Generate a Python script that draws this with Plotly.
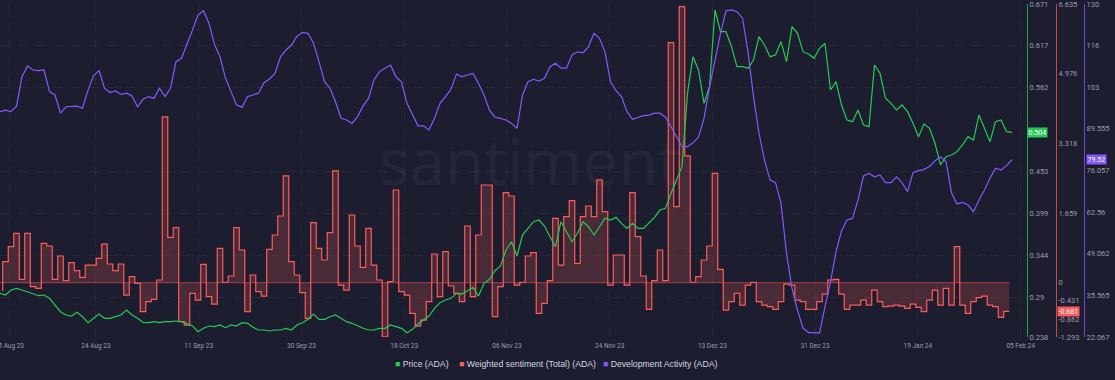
import pandas as pd
import plotly.graph_objects as go

# ---------------- data ----------------
start_date = "2023-08-05"

price = [
    0.2948, 0.2926, 0.2991, 0.3013, 0.2991, 0.2969, 0.2948, 0.2917, 0.2926, 0.2883,
    0.2796, 0.2709, 0.2666, 0.2653, 0.2701, 0.2644, 0.2566, 0.2623, 0.2679, 0.2623,
    0.2623, 0.2644, 0.2666, 0.2731, 0.2666, 0.2623, 0.2571, 0.2566, 0.2579, 0.2566,
    0.2579, 0.2579, 0.2588, 0.2579, 0.2549, 0.2523, 0.2449, 0.2493, 0.2523, 0.2514,
    0.2536, 0.2501, 0.2536, 0.2523, 0.2566, 0.2558, 0.2506, 0.2471, 0.2471, 0.2458,
    0.2471, 0.2471, 0.2493, 0.2471, 0.2536, 0.2566, 0.2610, 0.2679, 0.2610, 0.2610,
    0.2644, 0.2666, 0.2623, 0.2579, 0.2558, 0.2523, 0.2493, 0.2471, 0.2471, 0.2493,
    0.2493, 0.2536, 0.2514, 0.2493, 0.2436, 0.2480, 0.2549, 0.2601, 0.2653, 0.2753,
    0.2826, 0.2861, 0.2883, 0.2948, 0.2939, 0.2982, 0.3026, 0.2913, 0.3078, 0.3130,
    0.3242, 0.3303, 0.3511, 0.3619, 0.3433, 0.3706, 0.3793, 0.3879, 0.3901, 0.3823,
    0.3684, 0.3554, 0.3879, 0.3749, 0.3619, 0.3728, 0.3879, 0.3814, 0.3706, 0.3814,
    0.3923, 0.3901, 0.3936, 0.3858, 0.3793, 0.3858, 0.3793, 0.3793, 0.3866, 0.3936,
    0.4031, 0.4053, 0.4249, 0.4421, 0.4594, 0.5549, 0.6025, 0.5852, 0.5419, 0.5635,
    0.6632, 0.6350, 0.6350, 0.6155, 0.5895, 0.5895, 0.5874, 0.5982, 0.6285, 0.6177,
    0.6025, 0.6047, 0.6220, 0.5960, 0.6415, 0.6329, 0.6090, 0.6060, 0.6004, 0.6134,
    0.6199, 0.5592, 0.5700, 0.5397, 0.5202, 0.5180, 0.5332, 0.5137, 0.5115, 0.5917,
    0.5809, 0.5484, 0.5419, 0.5332, 0.5397, 0.5310, 0.5159, 0.4985, 0.5150, 0.5094,
    0.4899, 0.4617, 0.4724, 0.4747, 0.4790, 0.4877, 0.4985, 0.4942, 0.5267, 0.5094,
    0.4920, 0.5180, 0.5202, 0.5050, 0.504,
]

dev_activity = [
    95.1, 95.6, 95.1, 96.9, 106.4, 109.9, 108.6, 108.4, 108.6, 101.6,
    100.5, 94.6, 96.7, 96.7, 96.9, 96.2, 102.1, 106.7, 108.4, 102.7,
    101.3, 101.8, 100.7, 101.1, 100.2, 96.7, 99.1, 100.0, 99.4, 102.7,
    100.0, 102.7, 111.3, 112.4, 116.7, 121.6, 126.4, 127.8, 123.7, 116.9,
    112.9, 105.9, 101.6, 97.3, 96.5, 100.0, 100.5, 101.1, 104.5, 105.7,
    107.5, 112.9, 115.1, 116.7, 119.6, 120.8, 120.5, 117.3, 111.3, 104.8,
    102.7, 98.3, 92.95, 92.4, 91.3, 93.5, 96.9, 99.4, 105.4, 108.1,
    109.2, 110.2, 106.4, 104.8, 97.8, 94.0, 90.5, 90.5, 89.2, 92.95,
    97.8, 100.0, 102.4, 107.3, 106.4, 107.0, 107.5, 104.3, 100.5, 95.6,
    93.3, 92.95, 92.4, 91.3, 89.7, 100.5, 104.8, 105.6, 105.0, 105.9,
    109.7, 110.8, 109.2, 109.2, 113.5, 114.5, 114.2, 116.2, 120.5, 118.9,
    114.5, 104.8, 101.9, 100.0, 95.1, 92.6, 93.3, 93.8, 94.0, 94.6,
    94.6, 93.3, 90.2, 87.0, 83.75, 83.75, 85.0, 86.8, 92.95, 103.0,
    112.4, 120.5, 127.8, 128.1, 127.5, 125.4, 114.5, 100.0, 88.1, 79.4,
    73.0, 72.1, 65.4, 49.2, 37.85, 30.8, 24.9, 23.5, 23.5, 23.3,
    31.9, 40.0, 49.7, 56.5, 60.0, 60.5, 66.5, 74.25, 75.1, 74.0,
    74.6, 72.1, 72.1, 74.0, 72.1, 69.2, 75.3, 76.0, 76.4, 77.3,
    79.2, 80.5, 78.9, 68.8, 65.2, 65.7, 64.85, 62.7, 66.5, 69.7,
    73.5, 76.75, 76.2, 77.6, 79.52,
]

sentiment = [
    -0.2, 0.50, 0.86, 1.175, 0.08, 1.175, -0.095, -0.135, 0.937, 0.873,
    0.08, 0.635, 0.048, 0.476, 0.286, 0.127, 0.42, 0.42, 0.58, 0.92,
    0.445, 0.286, 0.445, -0.294, 0.143, -0.016, -0.69, -0.453, -0.397, 0.064,
    3.95, 1.08, 1.31, -0.929, -1.008, -0.254, -0.413, 0.437, -0.333, -0.508,
    0.818, 0.01, 0.159, 1.31, 0.778, -0.69, 0.183, -0.214, -0.318, 0.794,
    1.135, 1.588, 2.541, 0.50, 0.183, -0.238, -0.85, 1.429, 0.818, 0.54,
    1.191, 2.66, -0.056, -0.175, 1.612, 0.873, 0.365, 1.294, 0.42, 0.064,
    -1.29, 0.024, 2.207, -0.214, -0.294, -0.73, -1.032, -0.889, -0.453, 0.683,
    -0.333, 0.738, -0.079, -0.254, -0.453, 1.35, -0.333, 1.135, 2.326, 2.326,
    -0.81, -0.095, 2.144, 2.064, -0.056, 0.01, 0.635, 0.715, -0.73, -0.492,
    0.048, 1.532, 0.42, 1.572, 1.953, 0.46, 1.572, 1.826, 1.572, 2.446,
    1.691, -0.056, 0.659, 0.659, -0.056, 2.144, 1.096, 0.159, -0.635, 0.048,
    0.778, 0.048, 5.717, 1.81, 6.574, 3.017, 0.01, 0.143, 0.54, 0.873,
    2.604, 0.318, -0.651, -0.453, -0.254, -0.532, -0.056, 0.01, -0.453, -0.532,
    -0.572, -0.635, -0.453, -0.032, -0.056, -0.413, -0.453, -0.635, -0.635, -0.453,
    -0.27, 0.064, 0.079, -0.27, -0.635, -0.532, -0.532, -0.413, -0.532, -0.175,
    -0.453, -0.572, -0.556, -0.532, -0.556, -0.611, -0.508, -0.588, -0.69, -0.413,
    -0.175, -0.532, -0.135, -0.532, 0.857, -0.532, -0.73, -0.453, -0.357, -0.318,
    -0.532, -0.572, -0.826, -0.681,
]

x_tick_labels = ["05 Aug 23", "24 Aug 23", "11 Sep 23", "30 Sep 23", "18 Oct 23",
                 "06 Nov 23", "24 Nov 23", "13 Dec 23", "31 Dec 23", "19 Jan 24", "05 Feb 24"]
price_ticks = [0.238, 0.29, 0.344, 0.399, 0.453, 0.562, 0.617, 0.671]
price_range = [0.238, 0.671]
sent_ticks = [-1.293, -0.862, -0.431, 0, 1.659, 3.318, 4.976, 6.635]
sent_range = [-1.293, 6.635]
dev_ticks = [22.067, 35.565, 49.062, 62.56, 76.057, 89.555, 103.052, 116.55, 130]
dev_tick_text = ["22.067", "35.565", "49.062", "62.56", "76.057", "89.555", "103", "116", "130"]
dev_range = [22.067, 130]
series_names = ["Price (ADA)", "Weighted sentiment (Total) (ADA)", "Development Activity (ADA)"]

# ---------------- styling ----------------
BG = "#1c1e2f"
GREEN = "#26C953"
RED = "#FF5B5B"
PURPLE = "#8358FF"
TICK = "#9a9db0"
FONT = "Roboto"
W, H = 1115, 380
PLOT_RIGHT = 1027          # px, right edge of plotting area (green axis)
PX_PER_DAY = 5.5
EPS = 1e-6

t0 = pd.Timestamp(start_date)
dates = t0 + pd.to_timedelta(list(range(len(price))), unit="D")
sent_dates = t0 + pd.to_timedelta([k + 0.5 for k in range(len(sentiment))], unit="D")
x_end = t0 + pd.Timedelta(days=PLOT_RIGHT / PX_PER_DAY)

tick_days = [1.7] + [17.45 + 18.68 * k for k in range(len(x_tick_labels) - 1)]
tick_vals = [t0 + pd.Timedelta(days=d) for d in tick_days]

fig = go.Figure()
fig.add_trace(go.Scatter(
    x=sent_dates, y=sentiment, yaxis="y", mode="lines",
    line=dict(color=RED, width=1.2, shape="vh"),
    fill="tozeroy", fillcolor="rgba(255,91,91,0.2)",
    name=series_names[1], hoverinfo="skip"))
fig.add_trace(go.Scatter(
    x=dates, y=price, yaxis="y2", mode="lines",
    line=dict(color=GREEN, width=1.2), name=series_names[0], hoverinfo="skip"))
fig.add_trace(go.Scatter(
    x=dates, y=dev_activity, yaxis="y3", mode="lines",
    line=dict(color=PURPLE, width=1.2), name=series_names[2], hoverinfo="skip"))

tickfont = dict(family=FONT, size=7.5, color=TICK)
grid = dict(gridcolor="rgba(255,255,255,0.06)", griddash="dash", gridwidth=1)

fig.update_layout(
    template="none",
    width=W, height=H,
    margin=dict(l=0, r=0, t=4, b=43, autoexpand=False),
    paper_bgcolor=BG, plot_bgcolor=BG,
    showlegend=False,
    font=dict(family=FONT, color=TICK),
    xaxis=dict(
        type="date", domain=[0, PLOT_RIGHT / W], range=[t0, x_end], automargin=False,
        tickmode="array", tickvals=tick_vals, ticktext=x_tick_labels,
        tickfont=dict(family=FONT, size=6.5, color=TICK),
        ticks="outside", ticklen=2, tickcolor="rgba(0,0,0,0)",
        ticklabeloverflow="allow",
        showgrid=True, zeroline=False, showline=False, **grid),
    yaxis=dict(
        range=[sent_range[0] - EPS, sent_range[1] + EPS], side="right",
        anchor="free", position=1056 / W, automargin=False,
        showline=True, linecolor="rgba(255,91,91,0.75)", linewidth=1,
        tickmode="array", tickvals=sent_ticks, ticktext=[str(v) for v in sent_ticks],
        tickfont=tickfont, showgrid=False, zeroline=False, ticks="",
        ticklabeloverflow="allow"),
    yaxis2=dict(
        range=[price_range[0] - EPS, price_range[1] + EPS], overlaying="y", side="right",
        anchor="x", automargin=False,
        showline=True, linecolor="rgba(38,201,83,0.75)", linewidth=1,
        tickmode="array", tickvals=price_ticks, ticktext=[str(v) for v in price_ticks],
        tickfont=tickfont, showgrid=True, zeroline=False, ticks="",
        ticklabeloverflow="allow", **grid),
    yaxis3=dict(
        range=[dev_range[0] - EPS, dev_range[1] + EPS], overlaying="y", side="right",
        anchor="free", position=1084 / W, automargin=False,
        showline=True, linecolor="rgba(131,88,255,0.75)", linewidth=1,
        tickmode="array", tickvals=dev_ticks, ticktext=dev_tick_text,
        tickfont=tickfont, showgrid=False, zeroline=False, ticks="",
        ticklabeloverflow="allow"),
)

# zero baseline of the sentiment area
fig.add_shape(type="line", xref="x", yref="y", x0=t0, x1=sent_dates[-1], y0=0, y1=0,
              line=dict(color="rgba(255,91,91,0.55)", width=1), layer="below")

# watermark
fig.add_annotation(text="santiment", xref="paper", yref="paper",
                   x=530 / W, y=(337 - 160) / 333, showarrow=False,
                   font=dict(family="Open Sans", size=64, color="rgba(255,255,255,0.045)", weight=400))

# last-value badges
badges = [
    (f"{price[-1]:.3f}", "y2", price[-1], 1027, GREEN),
    (f"{sentiment[-1]}", "y", sentiment[-1], 1057, RED),
    (f"{dev_activity[-1]}", "y3", dev_activity[-1], 1086, PURPLE),
]
for txt, yref, yv, xpx, col in badges:
    fig.add_annotation(text=txt, xref="paper", yref=yref, x=xpx / W, y=yv,
                       xanchor="left", yanchor="middle", showarrow=False,
                       bgcolor=col, borderpad=0.6,
                       font=dict(family=FONT, size=7, color="white"))

# legend (colored squares + names)
legend_x = [393, 457, 601]
legend_colors = [GREEN, RED, PURPLE]
for name, xpx, col in zip(series_names, legend_x, legend_colors):
    fig.add_annotation(
        text=f"<span style='color:{col}'>■</span> {name}",
        xref="paper", yref="paper", x=xpx / W, y=(337 - 364) / 333,
        xanchor="left", yanchor="middle", showarrow=False,
        font=dict(family="Liberation Sans", size=8.7, color="#d4d6e0"))

page_fix = (
    "document.documentElement.style.margin='0';"
    "document.documentElement.style.overflow='hidden';"
    "document.body.style.margin='0';"
    "document.body.style.overflow='hidden';"
    "document.body.style.background='" + BG + "';"
)
fig.write_html("out.html", config={"displayModeBar": False}, post_script=page_fix)
